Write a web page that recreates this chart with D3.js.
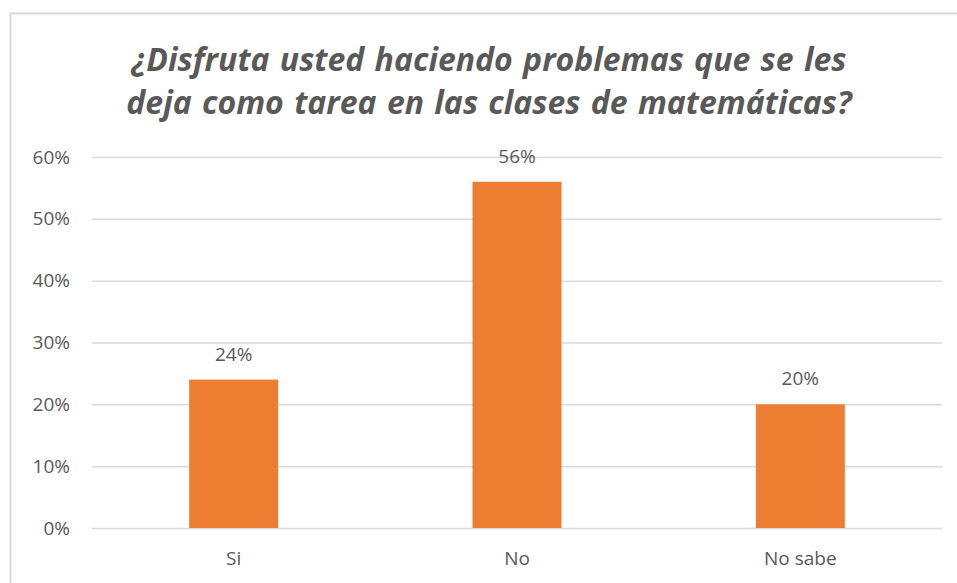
<!DOCTYPE html>
<html>
<head>
    <meta charset="utf-8">
    <script src="https://cdn.jsdelivr.net/npm/d3@7/dist/d3.min.js"></script>
    <style>
        body { margin: 0; background: #ffffff; }
        text { font-family: "Open Sans", "Noto Sans", sans-serif; }
    </style>
</head>
<body>
    <svg width="957" height="583" id="mainsvg"></svg>
    <script>
        // data
        const categories = ['Si', 'No', 'No sabe'];
        const values = [0.24, 0.56, 0.20];
        const yTicks = [0, 0.1, 0.2, 0.3, 0.4, 0.5, 0.6];
        const titleLines = ['¿Disfruta usted haciendo problemas que se les',
                            'deja como tarea en las clases de matemáticas?'];

        const svg = d3.select('#mainsvg');
        const width = +svg.attr('width');
        const height = +svg.attr('height');
        const margin = { top: 157, right: 15, bottom: 55, left: 92 };
        const innerWidth = width - margin.left - margin.right;   // 850
        const innerHeight = height - margin.top - margin.bottom; // 371
        const textColor = '#595959';

        // chart frame
        svg.append('rect')
            .attr('x', 10.5).attr('y', 13.5)
            .attr('width', width).attr('height', height)
            .attr('fill', 'none')
            .attr('stroke', '#d9d9d9')
            .attr('stroke-width', 2);

        // title
        svg.append('g').selectAll('text').data(titleLines).join('text')
            .attr('x', 489)
            .attr('y', (d, i) => 71 + i * 43)
            .attr('text-anchor', 'middle')
            .attr('fill', textColor)
            .attr('font-size', '32px')
            .attr('font-style', 'italic')
            .attr('font-weight', 'bold')
            .attr('word-spacing', '2px')
            .text(d => d);

        const g = svg.append('g')
            .attr('transform', `translate(${margin.left}, ${margin.top})`);

        const xScale = d3.scaleBand()
            .domain(categories)
            .range([0, innerWidth])
            .paddingInner(0.686)
            .paddingOuter(0.343);

        const yScale = d3.scaleLinear()
            .domain([0, 0.6])
            .range([innerHeight, 0]);

        // gridlines + tick labels
        const yAxis = d3.axisLeft(yScale)
            .tickValues(yTicks)
            .tickFormat(d3.format('.0%'))
            .tickSize(-innerWidth)
            .tickPadding(22);
        const yAxisGroup = g.append('g').call(yAxis);
        yAxisGroup.select('.domain').remove();
        yAxisGroup.selectAll('.tick line').attr('stroke', '#d9d9d9').attr('stroke-width', 1.5);
        yAxisGroup.selectAll('.tick text')
            .attr('fill', textColor)
            .attr('font-size', '19px')
            .attr('font-family', '"Open Sans", sans-serif');

        // bars
        g.selectAll('.bar').data(values).join('rect')
            .attr('class', 'bar')
            .attr('x', (d, i) => xScale(categories[i]))
            .attr('y', d => yScale(d))
            .attr('width', xScale.bandwidth())
            .attr('height', d => innerHeight - yScale(d))
            .attr('fill', '#ed7d31');

        // value labels
        g.selectAll('.val').data(values).join('text')
            .attr('class', 'val')
            .attr('x', (d, i) => xScale(categories[i]) + xScale.bandwidth() / 2)
            .attr('y', d => yScale(d) - 19)
            .attr('text-anchor', 'middle')
            .attr('fill', textColor)
            .attr('font-size', '19px')
            .text(d => d3.format('.0%')(d));

        // category axis
        const xAxis = d3.axisBottom(xScale).tickSize(0).tickPadding(24);
        const xAxisGroup = g.append('g')
            .attr('transform', `translate(0, ${innerHeight})`)
            .call(xAxis);
        xAxisGroup.select('.domain').remove();
        xAxisGroup.selectAll('.tick text')
            .attr('fill', textColor)
            .attr('font-size', '19px')
            .attr('font-family', '"Open Sans", sans-serif');
    </script>
</body>
</html>
